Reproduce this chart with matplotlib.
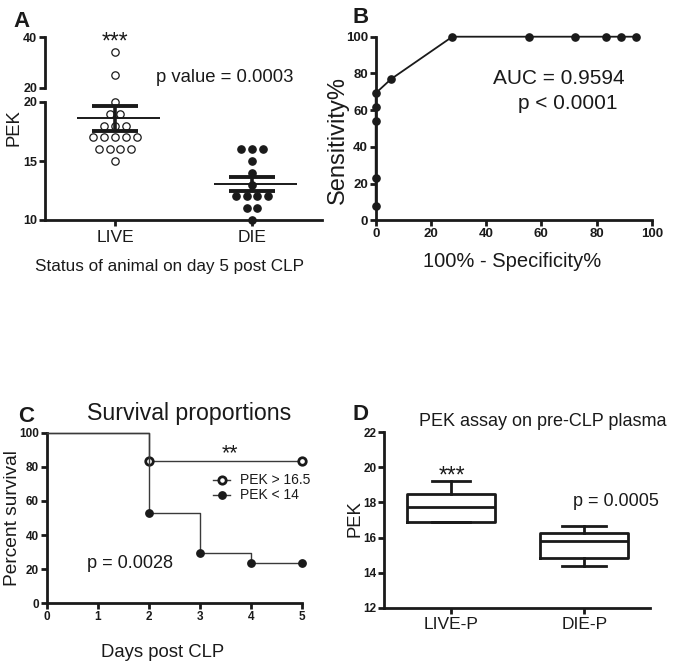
import matplotlib
matplotlib.use('Agg')
import matplotlib.pyplot as plt
import numpy as np

plt.rcParams['font.family'] = ['Liberation Sans', 'DejaVu Sans']

W, H = 684, 666
INK = '#1a1a1a'

# ---------------- data ----------------
# Panel A: PEK on day 5 by outcome
groups_a = ['LIVE', 'DIE']
live_pek = [34, 25, 20, 19, 19, 18, 18, 18, 17, 17, 17, 17, 17, 16, 16, 16, 16, 15]
die_pek = [16, 16, 16, 15, 14, 13, 12, 12, 12, 12, 11, 11, 10]

# Panel B: ROC curve
roc_fpr = [0, 0, 0, 0, 0, 5.56, 27.78, 55.56, 72.22, 83.33, 88.89, 94.44]
roc_tpr = [7.69, 23.08, 53.85, 61.54, 69.23, 76.92, 100, 100, 100, 100, 100, 100]

# Panel C: survival
high_days = [0, 2, 5]
high_surv = [100, 83.3, 83.3]
low_days = [0, 2, 3, 4, 5]
low_surv = [100, 52.9, 29.4, 23.5, 23.5]
legend_c = ['PEK > 16.5', 'PEK < 14']

# Panel D: box plots
box_labels = ['LIVE-P', 'DIE-P']
box_min = [16.9, 14.4]
box_q1 = [16.9, 14.82]
box_med = [17.75, 15.8]
box_q3 = [18.48, 16.28]
box_max = [19.2, 16.68]

# ---------------- helpers ----------------
fig = plt.figure(figsize=(W / 100, H / 100), dpi=100)


def add_ax(l, t, r, b):
    return fig.add_axes([l / W, 1 - b / H, (r - l) / W, (b - t) / H])


def ftext(x, y, s, **kw):
    kw.setdefault('color', INK)
    return fig.text(x / W, 1 - y / H, s, **kw)


def style(ax, spines=('left', 'bottom'), size=8.5):
    ax.patch.set_alpha(0)
    for name, sp in ax.spines.items():
        sp.set_visible(name in spines)
        sp.set_linewidth(2.0)
        sp.set_color(INK)
    ax.tick_params(direction='out', length=4, width=2, color=INK,
                   labelsize=size, pad=1.5, labelcolor=INK)
    for lab in ax.get_xticklabels() + ax.get_yticklabels():
        lab.set_fontweight('bold')


def swarm_x(vals, center, step):
    vals = np.asarray(vals)
    xs = np.zeros(len(vals))
    for v in np.unique(vals):
        idx = np.where(vals == v)[0]
        n = len(idx)
        xs[idx] = center + (np.arange(n) - (n - 1) / 2) * step
    return xs


# ---------------- Panel A ----------------
xl_a = (-0.511, 1.511)
axA = add_ax(45, 102, 322, 220)
axAu = add_ax(45, 37, 322, 88)
for ax in (axA, axAu):
    ax.set_xlim(*xl_a)
axA.set_ylim(10, 20)
axAu.set_ylim(20, 40)
axA.set_yticks([10, 15, 20])
axAu.set_yticks([20, 40])
axA.set_xticks([0, 1])
axA.set_xticklabels(groups_a)
axAu.set_xticks([])
style(axA, size=9)
style(axAu, spines=('left',), size=9)
for lab in axA.get_xticklabels():
    lab.set_fontweight('normal')
    lab.set_fontsize(12.5)
axA.tick_params(axis='x', pad=3)

step = 0.080
for gi, (vals, filled) in enumerate([(live_pek, False), (die_pek, True)]):
    vals = np.asarray(vals, dtype=float)
    xs = swarm_x(vals, gi, step)
    lo = vals <= 20
    kw = dict(ls='none', marker='o', ms=5.3, mec=INK, mew=0.9,
              mfc=INK if filled else 'white', clip_on=False, zorder=3)
    axA.plot(xs[lo], vals[lo], **kw)
    axAu.plot(xs[~lo], vals[~lo], **kw)
    m = vals.mean()
    sem = vals.std(ddof=1) / np.sqrt(len(vals))
    axA.hlines(m, gi - 0.28, gi + 0.33, color=INK, lw=1.4, zorder=4)
    axA.vlines(gi, m - sem, m + sem, color=INK, lw=2.6, zorder=4)
    axA.hlines([m - sem, m + sem], gi - 0.17, gi + 0.17, color=INK, lw=2.8, zorder=4)

ftext(13, 27, 'A', fontsize=16, fontweight='bold', va='baseline')
ftext(115, 49, '***', fontsize=16.5, ha='center', va='baseline')
ftext(225, 82, 'p value = 0.0003', fontsize=13.3, ha='center', va='baseline')
ftext(14.5, 128, 'PEK', fontsize=13.3, rotation=90, ha='center', va='center')
ftext(169.5, 270.5, 'Status of animal on day 5 post CLP', fontsize=12.3,
      ha='center', va='baseline')

# ---------------- Panel B ----------------
axB = add_ax(375.7, 36.7, 651.7, 220.3)
axB.set_xlim(0, 100)
axB.set_ylim(0, 100)
axB.set_xticks(np.arange(0, 101, 20))
axB.set_yticks(np.arange(0, 101, 20))
style(axB, size=9.5)
axB.plot(roc_fpr, roc_tpr, color=INK, lw=1.3, marker='o', ms=5.2,
         mfc=INK, mec=INK, clip_on=False, zorder=3)
ftext(353, 23, 'B', fontsize=16, fontweight='bold', va='baseline')
ftext(559, 84.3, 'AUC = 0.9594', fontsize=15, ha='center', va='baseline')
ftext(567.5, 109.3, 'p < 0.0001', fontsize=15, ha='center', va='baseline')
ftext(512.5, 266.7, '100% - Specificity%', fontsize=14.5, ha='center', va='baseline')
ftext(337.5, 140, 'Sensitivity%', fontsize=17, rotation=90, ha='center', va='center')

# ---------------- Panel C ----------------
axC = add_ax(46.7, 432.7, 302.3, 603.3)
axC.set_xlim(0, 5)
axC.set_ylim(0, 100)
axC.set_xticks(range(0, 6))
axC.set_yticks(np.arange(0, 101, 20))
style(axC, size=8.5)
axC.step(high_days, high_surv, where='post', color='#3a3a3a', lw=1.0,
         marker='o', ms=5.4, mfc='white', mec=INK, mew=2.0,
         markevery=[1, 2], clip_on=False, zorder=3, label=legend_c[0])
axC.step(low_days, low_surv, where='post', color='#3a3a3a', lw=1.0,
         marker='o', ms=5.3, mfc=INK, mec=INK,
         markevery=[1, 2, 3, 4], clip_on=False, zorder=3, label=legend_c[1])
# legend drawn manually
for yy, mfc, mew, lab in [(480, 'white', 2.0, legend_c[0]), (495, INK, 1.0, legend_c[1])]:
    fig.add_artist(plt.Line2D([213 / W, 221.5 / W, 230 / W], [1 - yy / H] * 3,
                              color='#3a3a3a', lw=1.0, marker='o', markevery=[1],
                              ms=5.3, mfc=mfc, mec=INK, mew=mew))
ftext(240, 480, legend_c[0], fontsize=10, va='center')
ftext(240, 495, legend_c[1], fontsize=10, va='center')

ftext(18, 421.7, 'C', fontsize=16, fontweight='bold', va='baseline')
ftext(189, 420, 'Survival proportions', fontsize=16.7, ha='center', va='baseline')
ftext(230, 459, '**', fontsize=15.5, ha='center', va='baseline')
ftext(130, 568.3, 'p = 0.0028', fontsize=13.1, ha='center', va='baseline')
ftext(163, 656.7, 'Days post CLP', fontsize=13.3, ha='center', va='baseline')
ftext(12.5, 518, 'Percent survival', fontsize=13.8, rotation=90, ha='center', va='center')

# ---------------- Panel D ----------------
axD = add_ax(384.3, 432.3, 650, 607.7)
axD.set_xlim(-0.5, 1.493)
axD.set_ylim(12, 22)
axD.set_yticks(np.arange(12, 23, 2))
stats = []
for i in range(len(box_labels)):
    stats.append(dict(label=box_labels[i], whislo=box_min[i], q1=box_q1[i],
                      med=box_med[i], q3=box_q3[i], whishi=box_max[i], fliers=[]))
lp = dict(color=INK, linewidth=2.0)
axD.bxp(stats, positions=[0, 1], widths=0.66, capwidths=[0.28, 0.33],
        showfliers=False, boxprops=lp, whiskerprops=lp, capprops=lp,
        medianprops=lp, manage_ticks=False)
axD.set_xticks([0, 1])
axD.set_xticklabels(box_labels)
style(axD, size=8.5)
for lab in axD.get_xticklabels():
    lab.set_fontweight('normal')
    lab.set_fontsize(12.5)
axD.tick_params(axis='x', pad=3)

ftext(353, 420, 'D', fontsize=16, fontweight='bold', va='baseline')
ftext(543, 426, 'PEK assay on pre-CLP plasma', fontsize=13, ha='center', va='baseline')
ftext(451.7, 483, '***', fontsize=16.5, ha='center', va='baseline')
ftext(616, 506, 'p = 0.0005', fontsize=13, ha='center', va='baseline')
ftext(355, 518.3, 'PEK', fontsize=13.3, rotation=90, ha='center', va='center')

fig.savefig('out.png', dpi=100)
